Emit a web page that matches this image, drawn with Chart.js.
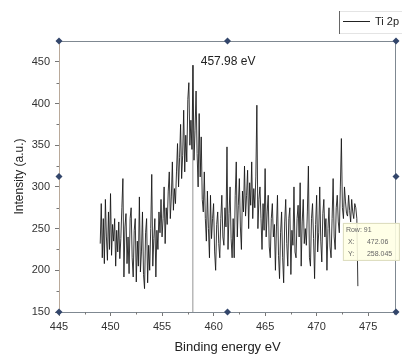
<!DOCTYPE html>
<html><head><meta charset="utf-8">
<script src="https://cdn.jsdelivr.net/npm/chart.js@4/dist/chart.umd.min.js"></script>
<style>html,body{margin:0;padding:0;background:#fff}canvas{display:block}</style>
</head><body>
<canvas id="c" width="402" height="356"></canvas>
<script>
const energies = [
  449.0,449.1,449.2,449.3,449.4,449.5,449.6,449.7,449.8,449.9,
  450.0,450.1,450.2,450.3,450.4,450.5,450.6,450.7,450.8,450.9,
  451.0,451.1,451.2,451.3,451.4,451.5,451.6,451.7,451.8,451.9,
  452.0,452.1,452.2,452.3,452.4,452.5,452.6,452.7,452.8,452.9,
  453.0,453.1,453.2,453.3,453.4,453.5,453.6,453.7,453.8,453.9,
  454.0,454.1,454.2,454.3,454.4,454.5,454.6,454.7,454.8,454.9,
  455.0,455.1,455.2,455.3,455.4,455.5,455.6,455.7,455.8,455.9,
  456.0,456.1,456.2,456.3,456.4,456.5,456.6,456.7,456.8,456.9,
  457.0,457.1,457.2,457.3,457.4,457.5,457.6,457.7,457.8,457.9,
  458.0,458.1,458.2,458.3,458.4,458.5,458.6,458.7,458.8,458.9,
  459.0,459.1,459.2,459.3,459.4,459.5,459.6,459.7,459.8,459.9,
  460.0,460.1,460.2,460.3,460.4,460.5,460.6,460.7,460.8,460.9,
  461.0,461.1,461.2,461.3,461.4,461.5,461.6,461.7,461.8,461.9,
  462.0,462.1,462.2,462.3,462.4,462.5,462.6,462.7,462.8,462.9,
  463.0,463.1,463.2,463.3,463.4,463.5,463.6,463.7,463.8,463.9,
  464.0,464.1,464.2,464.3,464.4,464.5,464.6,464.7,464.8,464.9,
  465.0,465.1,465.2,465.3,465.4,465.5,465.6,465.7,465.8,465.9,
  466.0,466.1,466.2,466.3,466.4,466.5,466.6,466.7,466.8,466.9,
  467.0,467.1,467.2,467.3,467.4,467.5,467.6,467.7,467.8,467.9,
  468.0,468.1,468.2,468.3,468.4,468.5,468.6,468.7,468.8,468.9,
  469.0,469.1,469.2,469.3,469.4,469.5,469.6,469.7,469.8,469.9,
  470.0,470.1,470.2,470.3,470.4,470.5,470.6,470.7,470.8,470.9,
  471.0,471.1,471.2,471.3,471.4,471.5,471.6,471.7,471.8,471.9,
  472.0,472.1,472.2,472.3,472.4,472.5,472.6,472.7,472.8,472.9,
  473.0,473.1,473.2,473.3,473.4,473.5,473.6,473.7,473.8,473.9,
  474.0
];
const intensities = [
  232,280,215,262,208,285,240,212,270,225,
  292,218,255,235,262,205,248,222,258,214,
  238,275,310,192,252,268,208,240,196,262,
  275,215,192,248,262,186,235,205,288,198,
  222,270,195,178,245,262,185,230,200,250,
  315,205,238,262,192,248,225,270,245,285,
  240,262,300,232,275,255,295,318,262,288,
  330,272,298,280,318,352,300,335,375,310,
  338,392,318,362,330,405,425,350,380,345,
  446,332,368,415,340,300,388,312,360,285,
  270,318,262,235,295,250,215,290,238,262,
  280,222,200,255,270,232,215,262,290,240,
  230,275,252,348,225,268,300,238,215,262,
  215,290,330,240,278,310,252,225,295,270,
  325,265,290,320,250,305,278,330,262,298,
  275,312,398,250,285,300,262,225,280,248,
  322,240,270,290,228,215,262,280,240,255,
  200,252,290,218,190,245,270,215,185,258,
  285,232,205,262,275,195,248,230,300,222,
  215,262,278,240,305,205,258,285,232,250,
  230,270,325,215,205,262,280,238,190,255,
  290,222,245,300,235,210,268,285,240,262,
  200,250,275,228,215,262,310,240,225,275,
  290,258,245,300,358,275,262,300,282,268,
  265,290,272,258,285,270,262,280,275,262,
  181
];
const xTicks = [445,450,455,460,465,470,475];
const xMinorTicks = [447.5,452.5,457.5,462.5,467.5,472.5,477.5];
const yTicks = [150,200,250,300,350,400,450];
const yMinorTicks = [175,225,275,325,375,425,475];
const seriesName = 'Ti 2p';
const peakEnergy = 457.98;
const peakLabel = '457.98 eV';
const cursorEnergy = 472.06;
const cursorIntensity = 258.045;
const cursorLines = [['Row:', '91'], ['X:', '472.06'], ['Y:', '258.045']];

const FONT = '"Liberation Sans", Arial, sans-serif';

const decor = {
  id: 'decor',
  beforeDatasetsDraw(chart) {
    const {ctx, chartArea: a, scales: {x, y}} = chart;
    const px = x.getPixelForValue(peakEnergy);
    ctx.save();
    ctx.strokeStyle = 'rgba(160,160,160,0.75)';
    ctx.lineWidth = 1.5;
    ctx.beginPath();
    ctx.moveTo(px, a.bottom);
    ctx.lineTo(px, y.getPixelForValue(Math.max(...intensities)));
    ctx.stroke();
    ctx.restore();
  },
  afterDraw(chart) {
    const {ctx, chartArea: a, scales: {x, y}} = chart;
    ctx.save();
    // minor ticks
    ctx.strokeStyle = '#777';
    ctx.lineWidth = 1;
    ctx.beginPath();
    xMinorTicks.forEach(v => { const p = Math.round(x.getPixelForValue(v)) + 0.5; if (p < a.right) { ctx.moveTo(p, a.bottom); ctx.lineTo(p, a.bottom + 2.5); } });
    yMinorTicks.forEach(v => { const p = Math.round(y.getPixelForValue(v)) + 0.5; if (p > a.top) { ctx.moveTo(a.left, p); ctx.lineTo(a.left - 2.5, p); } });
    ctx.stroke();
    // frame top & right
    ctx.strokeStyle = '#7f8891';
    ctx.beginPath();
    ctx.moveTo(a.left, a.top + 0.5); ctx.lineTo(a.right, a.top + 0.5);
    ctx.moveTo(a.right - 0.5, a.top); ctx.lineTo(a.right - 0.5, a.bottom);
    ctx.stroke();
    // selection handles
    const mx = (a.left + a.right) / 2, my = (a.top + a.bottom) / 2;
    const pts = [[a.left,a.top],[mx,a.top],[a.right,a.top],[a.left,my],[a.right,my],[a.left,a.bottom],[mx,a.bottom],[a.right,a.bottom]];
    ctx.fillStyle = '#33466b';
    pts.forEach(([hx, hy]) => {
      ctx.beginPath();
      ctx.moveTo(hx, hy - 3.5); ctx.lineTo(hx + 3.5, hy); ctx.lineTo(hx, hy + 3.5); ctx.lineTo(hx - 3.5, hy);
      ctx.closePath(); ctx.fill();
    });
    // peak label
    ctx.fillStyle = '#222';
    ctx.font = '12px ' + FONT;
    ctx.textAlign = 'left';
    ctx.textBaseline = 'middle';
    ctx.fillText(peakLabel, x.getPixelForValue(peakEnergy) + 8, y.getPixelForValue(450));
    // cursor info box
    const bx = x.getPixelForValue(cursorEnergy) + 5;
    const by = y.getPixelForValue(cursorIntensity) + 1;
    ctx.fillStyle = 'rgba(255,255,228,0.88)';
    ctx.fillRect(bx, by, 57, 38);
    ctx.strokeStyle = 'rgba(215,215,185,0.9)';
    ctx.strokeRect(bx + 0.5, by + 0.5, 56, 37);
    ctx.fillStyle = '#666';
    ctx.font = '7px ' + FONT;
    cursorLines.forEach(([k, v], i) => {
      const ty = by + 7 + i * 12;
      if (i === 0) { ctx.fillText(k + ' ' + v, bx + 3, ty); }
      else { ctx.fillText(k, bx + 5, ty); ctx.fillText(v, bx + 24, ty); }
    });
    // legend
    ctx.fillStyle = '#fff';
    ctx.fillRect(339, 11, 70, 22);
    ctx.strokeStyle = '#c8c8c8';
    ctx.setLineDash([1, 1]);
    ctx.strokeRect(339.5, 11.5, 70, 22);
    ctx.setLineDash([]);
    ctx.strokeStyle = '#666';
    ctx.beginPath(); ctx.moveTo(339.5, 11); ctx.lineTo(339.5, 34); ctx.stroke();
    ctx.strokeStyle = '#222';
    ctx.beginPath(); ctx.moveTo(343, 21.5); ctx.lineTo(370, 21.5); ctx.stroke();
    ctx.fillStyle = '#222';
    ctx.font = '11px ' + FONT;
    ctx.fillText(seriesName, 375, 22);
    ctx.restore();
  }
};

new Chart(document.getElementById('c'), {
  type: 'line',
  data: {
    datasets: [{
      label: seriesName,
      data: energies.map((e, i) => ({x: e, y: intensities[i]})),
      borderColor: 'rgba(20,20,20,0.85)',
      borderWidth: 1,
      pointRadius: 0,
      tension: 0,
      fill: false
    }]
  },
  options: {
    responsive: false,
    devicePixelRatio: 1,
    animation: false,
    layout: {padding: {top: 41, right: 6, left: 0, bottom: 0}},
    plugins: {legend: {display: false}, tooltip: {enabled: false}},
    scales: {
      x: {
        type: 'linear', min: 445, max: 477.7,
        afterBuildTicks: s => { s.ticks = xTicks.map(v => ({value: v})); },
        afterFit: s => { s.height = 44; },
        grid: {drawOnChartArea: false, drawTicks: true, tickLength: 4, color: '#777'},
        border: {display: true, color: '#7f8891'},
        ticks: {color: '#333', font: {size: 11, family: FONT}, padding: 4, maxRotation: 0, autoSkip: false},
        title: {display: true, text: 'Binding energy eV', color: '#222', font: {size: 13, family: FONT}, padding: {top: 4, bottom: 1}}
      },
      y: {
        type: 'linear', min: 150, max: 475,
        afterBuildTicks: s => { s.ticks = yTicks.map(v => ({value: v})); },
        afterFit: s => { s.width = 59; },
        grid: {drawOnChartArea: false, drawTicks: true, tickLength: 4, color: '#777'},
        border: {display: true, color: '#b9a99a'},
        ticks: {color: '#333', font: {size: 11, family: FONT}, padding: 5},
        title: {display: true, text: 'Intensity (a.u.)', color: '#222', font: {size: 12, family: FONT}, padding: {top: 12, bottom: 0}}
      }
    }
  },
  plugins: [decor]
});
</script>
</body></html>
